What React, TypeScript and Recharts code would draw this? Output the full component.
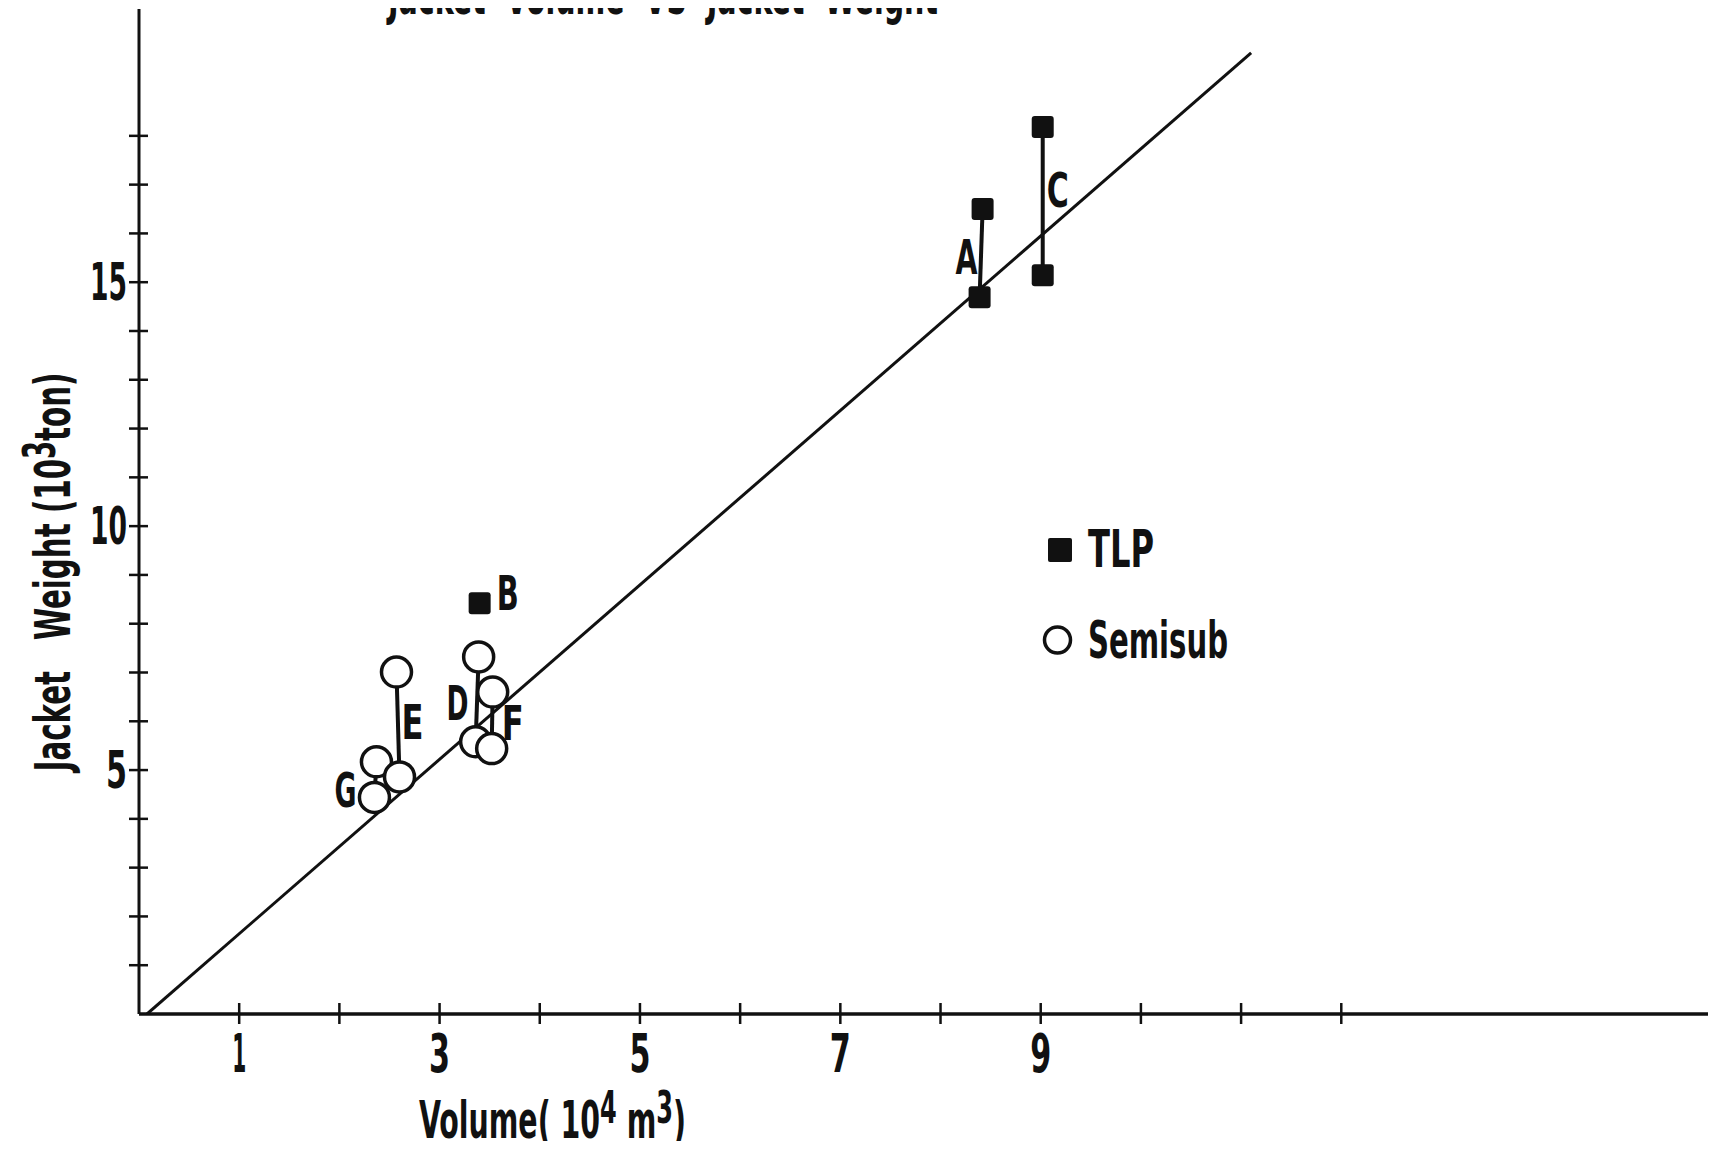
import { Label, Legend, Scatter, ScatterChart, XAxis, YAxis } from 'recharts';

const FONT = '"Liberation Sans Narrow", "DejaVu Sans Condensed", "Arial Narrow", sans-serif';
const INK = '#111';

// axis ticks (volume 10^4 m3, weight 10^3 ton)
const X_TICKS = [1, 2, 3, 4, 5, 6, 7, 8, 9, 10, 11, 12];
const X_LABELED = [1, 3, 5, 7, 9];
const Y_TICKS = [1, 2, 3, 4, 5, 6, 7, 8, 9, 10, 11, 12, 13, 14, 15, 16, 17, 18];
const Y_LABELED = [5, 10, 15];

// TLP platforms A and C are ranges (upper / lower), B is a single point
const tlpUpper = [
  { x: 8.42, y: 16.5 },
  { x: 9.02, y: 18.18 },
];
const tlpLower = [
  { x: 8.39, y: 14.69 },
  { x: 9.02, y: 15.14 },
];
const tlpSingle = [{ x: 3.4, y: 8.42 }];

// Semisub platforms E, G, D, F
const semiUpper = [
  { x: 2.57, y: 7.01 },
  { x: 2.37, y: 5.17 },
  { x: 3.39, y: 7.32 },
  { x: 3.53, y: 6.6 },
];
const semiLower = [
  { x: 2.6, y: 4.86 },
  { x: 2.35, y: 4.44 },
  { x: 3.36, y: 5.58 },
  { x: 3.52, y: 5.44 },
];

const trendLine = [
  { x: 0.08, y: 0 },
  { x: 11.1, y: 19.7 },
];

const letterLabels = [
  { name: 'A', x: 8.26, y: 15.52 },
  { name: 'B', x: 3.68, y: 8.62 },
  { name: 'C', x: 9.17, y: 16.89 },
  { name: 'D', x: 3.18, y: 6.37 },
  { name: 'E', x: 2.73, y: 5.99 },
  { name: 'F', x: 3.73, y: 5.96 },
  { name: 'G', x: 2.06, y: 4.59 },
];

const tlpAll = [...tlpUpper, ...tlpLower, ...tlpSingle];
const semiAll = [...semiUpper, ...semiLower];
const tlpPairs = tlpUpper.map((p, i) => [p, tlpLower[i]]);
const semiPairs = semiUpper.map((p, i) => [p, semiLower[i]]);

function XTick({ x, y, payload }: any) {
  const v = payload.value;
  return (
    <g>
      <line x1={x} x2={x} y1={y - 11} y2={y + 10} stroke={INK} strokeWidth={2.5} />
      {X_LABELED.includes(v) && (
        <text
          x={x}
          y={y + 58}
          textAnchor="middle"
          fontFamily={FONT}
          fontWeight="bold"
          fontSize={53}
          fill={INK}
          textLength={v === 1 ? 14 : 21}
          lengthAdjust="spacingAndGlyphs"
        >
          {v}
        </text>
      )}
    </g>
  );
}

function YTick({ x, y, payload }: any) {
  const v = payload.value;
  return (
    <g>
      <line x1={x - 10} x2={x + 9} y1={y} y2={y} stroke={INK} strokeWidth={2.5} />
      {Y_LABELED.includes(v) && (
        <text
          x={x - 12}
          y={y + 18}
          textAnchor="end"
          fontFamily={FONT}
          fontWeight="bold"
          fontSize={52}
          fill={INK}
          textLength={v >= 10 ? 37 : 21}
          lengthAdjust="spacingAndGlyphs"
        >
          {v}
        </text>
      )}
    </g>
  );
}

const Square = (p: any) => (
  <rect x={p.cx - 11} y={p.cy - 11} width={22} height={22} rx={3} fill={INK} />
);

const Ring = (p: any) => (
  <circle cx={p.cx} cy={p.cy} r={15} fill="#fff" stroke={INK} strokeWidth={3.5} />
);

const Letter = (p: any) => (
  <text
    x={p.cx}
    y={p.cy}
    textAnchor="middle"
    dominantBaseline="central"
    fontFamily={FONT}
    fontWeight="bold"
    fontSize={48}
    fill={INK}
    textLength={22}
    lengthAdjust="spacingAndGlyphs"
  >
    {p.payload?.name}
  </text>
);

const Nothing = () => <g />;

function LegendBox() {
  return (
    <svg width={260} height={190}>
      <rect x={18} y={23} width={24} height={24} rx={2} fill={INK} />
      <text x={58} y={52} fontFamily={FONT} fontWeight="bold" fontSize={52} fill={INK} textLength={66} lengthAdjust="spacingAndGlyphs">
        TLP
      </text>
      <circle cx={27.5} cy={125} r={13} fill="#fff" stroke={INK} strokeWidth={3.5} />
      <text x={58} y={143} fontFamily={FONT} fontWeight="bold" fontSize={52} fill={INK} textLength={140} lengthAdjust="spacingAndGlyphs">
        Semisub
      </text>
    </svg>
  );
}

export default function App() {
  return (
    <div style={{ margin: -8, width: 1716, height: 1149, position: 'relative', background: '#fff' }}>
      <ScatterChart width={1716} height={1149} margin={{ top: 9, right: 0, bottom: 0, left: 0 }}>
        <XAxis
          type="number"
          dataKey="x"
          domain={[0, 15.74]}
          allowDataOverflow
          ticks={X_TICKS}
          tick={<XTick />}
          tickSize={0}
          tickMargin={0}
          tickLine={false}
          height={135}
          axisLine={{ stroke: INK, strokeWidth: 3.5 }}
        >
          <Label
            content={() => (
              <text x={419} y={1138} fontFamily={FONT} fontWeight="bold" fontSize={52} fill={INK} textLength={267} lengthAdjust="spacingAndGlyphs">
                Volume( 10
                <tspan dy={-15} fontSize={44}>4</tspan>
                <tspan dy={15}> m</tspan>
                <tspan dy={-15} fontSize={44}>3</tspan>
                <tspan dy={15}>)</tspan>
              </text>
            )}
          />
        </XAxis>
        <YAxis
          type="number"
          dataKey="y"
          domain={[0, 20.6]}
          allowDataOverflow
          ticks={Y_TICKS}
          tick={<YTick />}
          tickSize={0}
          tickMargin={0}
          tickLine={false}
          width={139}
          axisLine={{ stroke: INK, strokeWidth: 3 }}
        >
          <Label
            content={() => (
              <text
                x={70}
                y={572}
                transform="rotate(-90 70 572)"
                textAnchor="middle"
                fontFamily={FONT}
                fontWeight="bold"
                fontSize={50}
                fill={INK}
                textLength={399}
                lengthAdjust="spacingAndGlyphs"
                style={{ whiteSpace: 'pre' }}
              >
                {'Jacket   Weight (10'}
                <tspan dy={-15} fontSize={44}>3</tspan>
                <tspan dy={15}>ton)</tspan>
              </text>
            )}
          />
        </YAxis>
        <Legend
          layout="horizontal"
          verticalAlign="middle"
          align="center"
          content={() => <LegendBox />}
          wrapperStyle={{ left: 1030, top: 515, width: 260, height: 190 }}
        />

        <Scatter
          data={trendLine}
          line={{ stroke: INK, strokeWidth: 3 }}
          stroke={INK}
          strokeWidth={3}
          shape={Nothing}
          isAnimationActive={false}
        />
        {tlpPairs.map((pair, i) => (
          <Scatter
            key={'t' + i}
            data={pair}
            line={{ stroke: INK, strokeWidth: 4 }}
            stroke={INK}
            strokeWidth={4}
            shape={Nothing}
            isAnimationActive={false}
          />
        ))}
        {semiPairs.map((pair, i) => (
          <Scatter
            key={'s' + i}
            data={pair}
            line={{ stroke: INK, strokeWidth: 4 }}
            stroke={INK}
            strokeWidth={4}
            shape={Nothing}
            isAnimationActive={false}
          />
        ))}
        <Scatter data={tlpAll} shape={Square} isAnimationActive={false} />
        <Scatter data={semiAll} shape={Ring} isAnimationActive={false} />
        <Scatter data={letterLabels} shape={Letter} isAnimationActive={false} />
      </ScatterChart>
      <svg width={1716} height={60} style={{ position: 'absolute', left: 0, top: 0, pointerEvents: 'none' }}>
        <text
          x={388}
          y={14}
          fontFamily={FONT}
          fontWeight="bold"
          fontSize={52}
          fill={INK}
          textLength={550}
          lengthAdjust="spacingAndGlyphs"
          style={{ whiteSpace: 'pre' }}
        >
          {'Jacket  Volume  VS  Jacket  Weight'}
        </text>
      </svg>
    </div>
  );
}
